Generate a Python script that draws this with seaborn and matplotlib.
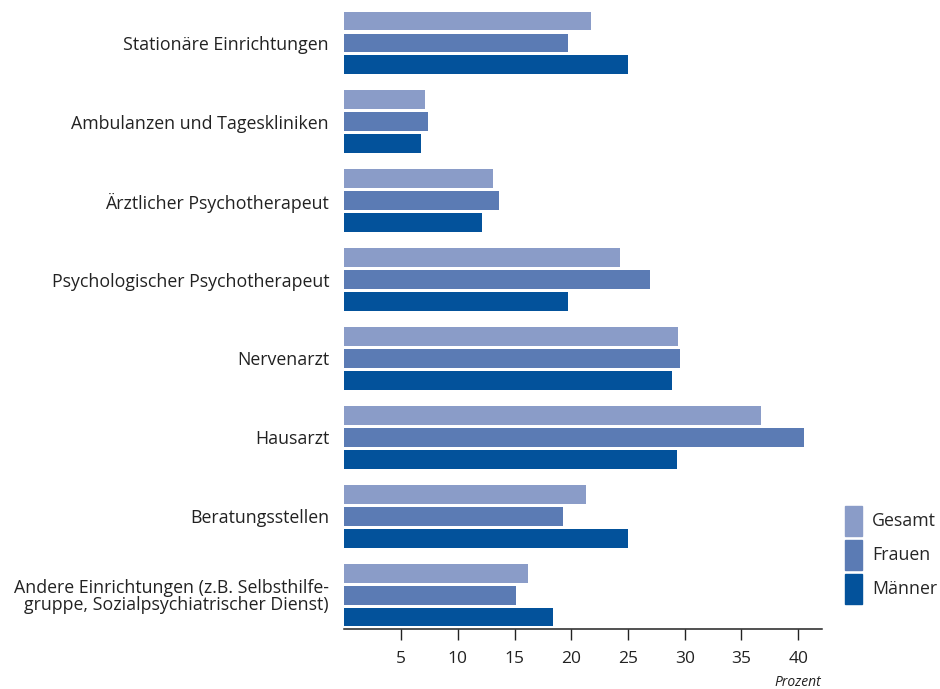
import pandas as pd
import seaborn as sns
import matplotlib.pyplot as plt

# Data (Prozent)
categories = [
    'Stationäre Einrichtungen',
    'Ambulanzen und Tageskliniken',
    'Ärztlicher Psychotherapeut',
    'Psychologischer Psychotherapeut',
    'Nervenarzt',
    'Hausarzt',
    'Beratungsstellen',
    'Andere Einrichtungen (z.B. Selbsthilfe-\ngruppe, Sozialpsychiatrischer Dienst)',
]
gesamt = [21.7, 7.1, 13.1, 24.3, 29.4, 36.7, 21.3, 16.2]
frauen = [19.7, 7.4, 13.6, 26.9, 29.6, 40.5, 19.3, 15.1]
maenner = [25.0, 6.8, 12.1, 19.7, 28.9, 29.3, 25.0, 18.4]
groups = ['Gesamt', 'Frauen', 'Männer']
colors = ['#8a9cc8', '#5b7bb4', '#03529b']
xticks = [5, 10, 15, 20, 25, 30, 35, 40]

df = pd.DataFrame({
    'Kategorie': categories * 3,
    'Gruppe': [g for g in groups for _ in categories],
    'Prozent': gesamt + frauen + maenner,
})

sns.set_style('white')
plt.rcParams['font.family'] = ['Open Sans', 'DejaVu Sans']

fig = plt.figure(figsize=(9.4, 6.89), dpi=100)
ax = fig.add_axes([0.3663, 0.0871, 0.5082, 0.8998])

sns.barplot(data=df, y='Kategorie', x='Prozent', hue='Gruppe',
            hue_order=groups, palette=colors, orient='h',
            width=0.835, gap=0.14, saturation=1, linewidth=0, ax=ax)

ax.set_xlim(0, 42.1)
ax.set_ylim(7.43, -0.43)
ax.set_xlabel('')
ax.set_ylabel('')
ax.set_xticks(xticks)
ax.set_xticklabels([str(t) for t in xticks], fontsize=12.5, color='#222222')
ax.tick_params(axis='x', direction='out', length=8, width=1, color='#222222', pad=8, bottom=True)
ax.tick_params(axis='y', length=0, pad=11)
for lbl in ax.get_yticklabels():
    lbl.set_fontsize(12.8)
    lbl.set_color('#222222')
    lbl.set_multialignment('right')
    lbl.set_linespacing(0.93)

for s in ['top', 'right', 'left']:
    ax.spines[s].set_visible(False)
ax.spines['bottom'].set_color('#222222')
ax.spines['bottom'].set_linewidth(1.1)

fig.text(0.874, 0.004, 'Prozent', ha='right', va='baseline', fontsize=10,
         style='italic', color='#222222')

ax.get_legend().remove()
handles = [plt.Rectangle((0, 0), 1, 1, color=c) for c in colors]
fig.legend(handles, groups, loc='lower left', bbox_to_anchor=(0.899, 0.124),
           frameon=False, fontsize=12.8, handlelength=0.95, handleheight=2.2,
           labelspacing=0.23, handletextpad=0.56, borderpad=0, borderaxespad=0)

fig.savefig('out.png', dpi=100)
